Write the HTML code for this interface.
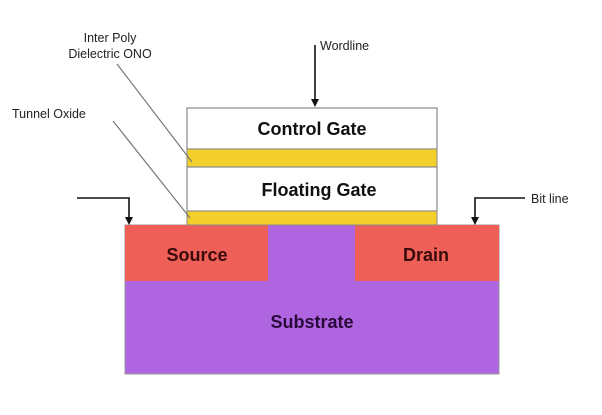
<!DOCTYPE html>
<html><head><style>
html,body{margin:0;padding:0;background:#fff;width:602px;height:415px;overflow:hidden}
svg{display:block}
text{font-family:"Liberation Sans",sans-serif}
</style></head><body>
<svg width="602" height="415" viewBox="0 0 602 415">
<defs><marker id="a" markerWidth="8" markerHeight="8" refX="4" refY="7" orient="auto" markerUnits="userSpaceOnUse"><path d="M0,0 L8,0 L4,8 Z" fill="#111" transform="rotate(-90 4 4)"/></marker></defs>
<rect x="125" y="225" width="374" height="149" fill="#b065e0" stroke="#999" stroke-width="1"/>
<rect x="125" y="225" width="143" height="56" fill="#ee5f58"/>
<rect x="355" y="225" width="144" height="56" fill="#ee5f58"/>
<rect x="187" y="108" width="250" height="41" fill="#fff" stroke="#888" stroke-width="1.2"/>
<rect x="187" y="149" width="250" height="18" fill="#f3d02c" stroke="#888" stroke-width="1"/>
<rect x="187" y="167" width="250" height="44" fill="#fff" stroke="#888" stroke-width="1.2"/>
<rect x="187" y="211" width="250" height="14" fill="#f3d02c" stroke="#888" stroke-width="1"/>
<g font-weight="bold" font-size="18" text-anchor="middle" fill="#111">
<text x="312" y="135">Control Gate</text>
<text x="319" y="196">Floating Gate</text>
<text x="197" y="261" fill="#3a0a0a">Source</text>
<text x="426" y="261" fill="#3a0a0a">Drain</text>
<text x="312" y="328" fill="#2a0a3a">Substrate</text>
</g>
<g font-size="12.5" fill="#222">
<text x="110" y="42" text-anchor="middle">Inter Poly</text>
<text x="110" y="58" text-anchor="middle">Dielectric ONO</text>
<text x="320" y="50">Wordline</text>
<text x="12" y="118">Tunnel Oxide</text>
<text x="531" y="203">Bit line</text>
</g>
<g stroke="#777" stroke-width="1.2">
<line x1="117" y1="64" x2="192" y2="162"/>
<line x1="113" y1="121" x2="190" y2="218"/>
</g>
<g stroke="#111" stroke-width="1.6" fill="none">
<line x1="315" y1="45" x2="315" y2="100"/>
<polyline points="77,198 129,198 129,218"/>
<polyline points="525,198 475,198 475,218"/>
</g>
<g fill="#111">
<path d="M311,99 L319,99 L315,107 Z"/>
<path d="M125,217 L133,217 L129,225 Z"/>
<path d="M471,217 L479,217 L475,225 Z"/>
</g>
</svg>
</body></html>
